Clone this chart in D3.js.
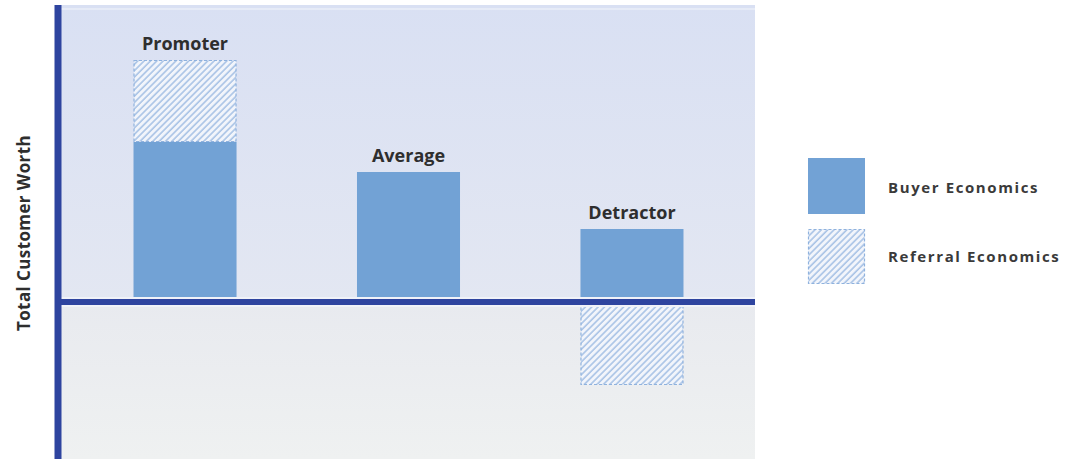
<!DOCTYPE html>
<html>
<head>
<meta charset="utf-8">
<script src="https://cdn.jsdelivr.net/npm/d3@7"></script>
<style>
  html, body { margin: 0; padding: 0; background: #ffffff; }
  svg { display: block; }
  text { font-family: "Open Sans", "Liberation Sans", sans-serif; font-weight: 700; }
</style>
</head>
<body>
<svg id="chart" width="1076" height="459"></svg>
<script>
// Customer segments and their worth split into two components
const categories = ["Promoter", "Average", "Detractor"];
const buyerEconomics = [3.2, 2.6, 1.46];
const referralEconomics = [1.64, 0, -1.66];
const seriesNames = ["Buyer Economics", "Referral Economics"];
const axisTitle = "Total Customer Worth";

const svg = d3.select("#chart");
const plot = { left: 58, right: 755, top: 5, bottom: 459 };

const x = d3.scaleBand()
  .domain(categories)
  .range([plot.left + 4, plot.right])
  .paddingInner(0.539)
  .paddingOuter(0.32);

const y = d3.scaleLinear()
  .domain([-3.14, 5.94])
  .range([plot.bottom, plot.top]);

const defs = svg.append("defs");

// Background gradients above and below the zero line
const gUp = defs.append("linearGradient").attr("id", "bgUp")
  .attr("x1", 0).attr("y1", 0).attr("x2", 0).attr("y2", 1);
gUp.append("stop").attr("offset", "0%").attr("stop-color", "#d9e0f3");
gUp.append("stop").attr("offset", "100%").attr("stop-color", "#e3e7f2");

const gDown = defs.append("linearGradient").attr("id", "bgDown")
  .attr("x1", 0).attr("y1", 0).attr("x2", 0).attr("y2", 1);
gDown.append("stop").attr("offset", "0%").attr("stop-color", "#e8eaef");
gDown.append("stop").attr("offset", "100%").attr("stop-color", "#eff1f1");

// Diagonal hatch used for referral economics
const hatch = defs.append("pattern").attr("id", "hatch")
  .attr("patternUnits", "userSpaceOnUse")
  .attr("width", 4.5).attr("height", 4.5)
  .attr("patternTransform", "rotate(45)");
hatch.append("rect").attr("width", 4.5).attr("height", 4.5).attr("fill", "#f2f5fb");
hatch.append("line")
  .attr("x1", 1).attr("y1", 0).attr("x2", 1).attr("y2", 4.5)
  .attr("stroke", "#a9c3e6").attr("stroke-width", 1.6);

// Plot background
svg.append("rect")
  .attr("x", plot.left).attr("y", plot.top)
  .attr("width", plot.right - plot.left).attr("height", y(0) - plot.top)
  .attr("fill", "url(#bgUp)");
svg.append("rect")
  .attr("x", plot.left).attr("y", y(0))
  .attr("width", plot.right - plot.left).attr("height", plot.bottom - y(0))
  .attr("fill", "url(#bgDown)");
svg.append("line")
  .attr("x1", plot.left).attr("x2", plot.right)
  .attr("y1", plot.top + 4).attr("y2", plot.top + 4)
  .attr("stroke", "#ffffff").attr("stroke-opacity", 0.35).attr("stroke-width", 2);

const barColor = "#72a2d5";
const hatchBorder = "#8fb2de";

const rows = categories.map((c, i) => ({
  cat: c, buyer: buyerEconomics[i], referral: referralEconomics[i]
}));

// Buyer economics bars
svg.append("g").selectAll("rect")
  .data(rows)
  .join("rect")
  .attr("x", d => x(d.cat))
  .attr("width", x.bandwidth())
  .attr("y", d => y(d.buyer))
  .attr("height", d => y(0) - y(d.buyer))
  .attr("fill", barColor);

// Referral economics: stacked on top when positive, hanging below zero when negative
const ref = rows.filter(d => d.referral !== 0);
const refTop = d => d.referral > 0 ? y(d.buyer + d.referral) : y(0);
const refBottom = d => d.referral > 0 ? y(d.buyer) : y(d.referral);
svg.append("g").selectAll("rect")
  .data(ref)
  .join("rect")
  .attr("x", d => x(d.cat) + 0.5)
  .attr("width", x.bandwidth() - 1)
  .attr("y", d => refTop(d) + 0.5)
  .attr("height", d => refBottom(d) - refTop(d) - 1)
  .attr("fill", "url(#hatch)")
  .attr("stroke", hatchBorder)
  .attr("stroke-width", 1.2)
  .attr("stroke-dasharray", "3,2");

// Category labels above each column
svg.append("g").selectAll("text")
  .data(rows)
  .join("text")
  .attr("x", d => x(d.cat) + x.bandwidth() / 2)
  .attr("y", d => y(d.buyer + Math.max(0, d.referral)) - 10)
  .attr("text-anchor", "middle")
  .attr("font-size", 18)
  .attr("fill", "#2e2e2e")
  .text(d => d.cat);

// Zero baseline drawn from a bottom axis
const xAxis = svg.append("g")
  .attr("transform", `translate(0,${y(0)})`)
  .call(d3.axisBottom(x).tickSize(0).tickSizeOuter(0).tickFormat(""));
xAxis.select(".domain")
  .attr("d", `M${plot.left},0H${plot.right}`)
  .attr("stroke", "#2e449f").attr("stroke-width", 6);
xAxis.insert("path", ".domain")
  .attr("d", `M${plot.left},0H${plot.right}`)
  .attr("stroke", "#f0f2f8").attr("stroke-width", 10);

// Vertical value axis
const yAxis = svg.append("g")
  .attr("transform", `translate(${plot.left},0)`)
  .call(d3.axisLeft(y).ticks(0).tickSize(0).tickSizeOuter(0));
yAxis.selectAll(".tick").remove();
yAxis.select(".domain")
  .attr("d", `M0,${plot.top}V${plot.bottom}`)
  .attr("stroke", "#2e449f").attr("stroke-width", 7);

// Axis title
svg.append("text")
  .attr("transform", `translate(30,${(plot.top + plot.bottom) / 2 + 1}) rotate(-90)`)
  .attr("text-anchor", "middle")
  .attr("font-size", 17)
  .attr("letter-spacing", 0.4)
  .attr("fill", "#2e2e2e")
  .text(axisTitle);

// Legend
const legend = svg.append("g").attr("transform", "translate(808,158)");
const legendItems = legend.selectAll("g")
  .data(seriesNames)
  .join("g")
  .attr("transform", (d, i) => `translate(0,${i * 71})`);
legendItems.append("rect")
  .attr("x", d => d === seriesNames[1] ? 0.5 : 0)
  .attr("y", d => d === seriesNames[1] ? 0.5 : 0)
  .attr("width", d => d === seriesNames[1] ? 56 : 57)
  .attr("height", d => d === seriesNames[1] ? 54 : 56)
  .attr("fill", d => d === seriesNames[1] ? "url(#hatch)" : barColor)
  .attr("stroke", d => d === seriesNames[1] ? hatchBorder : "none")
  .attr("stroke-width", 1.2)
  .attr("stroke-dasharray", "3,2");
legendItems.append("text")
  .attr("x", 80)
  .attr("y", (d, i) => i === 0 ? 34.5 : 32.5)
  .attr("font-size", 15)
  .attr("letter-spacing", 1.6)
  .attr("fill", "#3a3a3a")
  .text(d => d);
</script>
</body>
</html>
